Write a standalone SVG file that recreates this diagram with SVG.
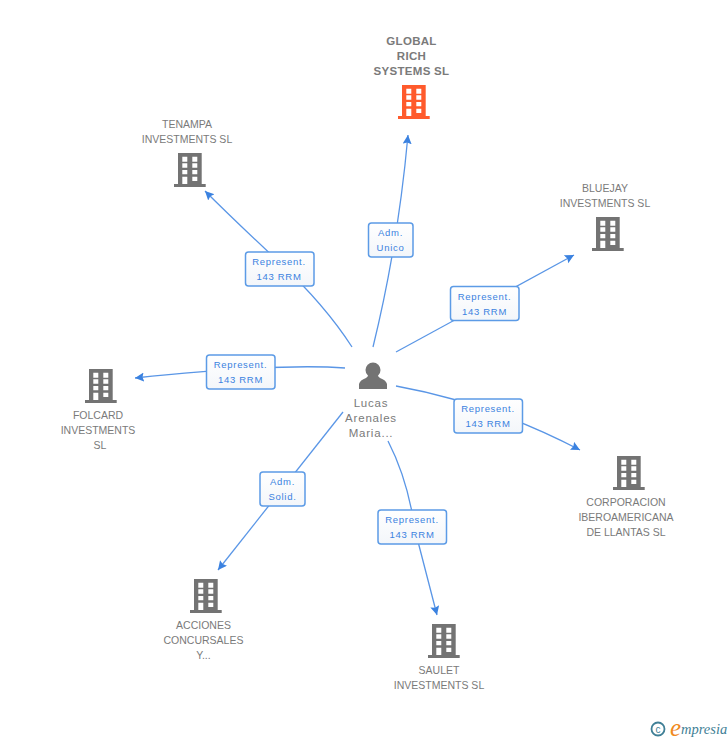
<svg xmlns="http://www.w3.org/2000/svg" width="728" height="740" viewBox="0 0 728 740">
<defs>
<linearGradient id="lg" x1="0" y1="0" x2="0" y2="1"><stop offset="0" stop-color="#ffffff"/><stop offset="1" stop-color="#f3f6fa"/></linearGradient>
<marker id="arr" markerUnits="userSpaceOnUse" markerWidth="12" markerHeight="10" refX="9" refY="4.500" orient="auto"><path d="M0 0L9 4.500L0 9L1.500 4.500Z" fill="#3b82e0"/></marker>
<g id="bld"><path fill-rule="evenodd" d="M-12 0H11.700V31H15.700V34H-16V31H-12ZM-7.700 3.700V8.700H-2.700V3.700ZM2.300 3.700V8.700H7.300V3.700ZM-7.700 10.300V14.800H-2.700V10.300ZM2.300 10.300V14.800H7.300V10.300ZM-7.700 17V21.300H-2.700V17ZM2.300 17V21.300H7.300V17ZM-7.700 23.700V31H-2.700V23.700ZM2.300 23.700V28H7.300V23.700Z"/></g>
</defs>
<style>
text{font-family:"Liberation Sans",Arial,sans-serif}
.n{font-size:10.500px;fill:#7a7a7a;text-anchor:middle;letter-spacing:0}
.t{font-size:11.500px;font-weight:bold;fill:#7a7a7a;text-anchor:middle;letter-spacing:.3px}
.p{font-size:11.500px;fill:#7a7a7a;text-anchor:middle;letter-spacing:.8px}
.l{font-size:9.500px;fill:#3b82e0;text-anchor:middle;letter-spacing:.7px}
.b{fill:url(#lg);stroke:#5c9be6;stroke-width:1.500}
.c{fill:none;stroke:#5a96e6;stroke-width:1.300;marker-end:url(#arr)}
.g{fill:#737373}
</style>
<rect width="728" height="740" fill="#fff"/>
<g id="connectors">
<path class="c" d="M373 347Q398 245 408 135"/>
<path class="c" d="M352 347Q325 305 279 262T205 191"/>
<path class="c" d="M396 352L574 255"/>
<path class="c" d="M345 368Q280 363 135 378"/>
<path class="c" d="M396 386Q490 403 580 450"/>
<path class="c" d="M343 412L218 570"/>
<path class="c" d="M388 441Q408 480 415 530L437 615"/>
</g>
<g id="edge-labels">
<g><rect class="b" x="368.500" y="223" width="44.500" height="34" rx="3"/><text class="l" x="390.500" y="236">Adm.</text><text class="l" x="390.500" y="251">Unico</text></g>
<g><rect class="b" x="245.500" y="252" width="68.500" height="34" rx="3"/><text class="l" x="279" y="265">Represent.</text><text class="l" x="279" y="280">143 RRM</text></g>
<g><rect class="b" x="450.500" y="286.500" width="68.500" height="34" rx="3"/><text class="l" x="484.500" y="300">Represent.</text><text class="l" x="484.500" y="315">143 RRM</text></g>
<g><rect class="b" x="206.500" y="355" width="68.500" height="34" rx="3"/><text class="l" x="240.500" y="368">Represent.</text><text class="l" x="240.500" y="383">143 RRM</text></g>
<g><rect class="b" x="454" y="399" width="68.500" height="34" rx="3"/><text class="l" x="488" y="412">Represent.</text><text class="l" x="488" y="427">143 RRM</text></g>
<g><rect class="b" x="260" y="472" width="45" height="34" rx="3"/><text class="l" x="282.500" y="485">Adm.</text><text class="l" x="282.500" y="500">Solid.</text></g>
<g><rect class="b" x="378" y="510" width="68.500" height="34" rx="3"/><text class="l" x="412" y="523">Represent.</text><text class="l" x="412" y="538">143 RRM</text></g>
</g>
<g id="person"><circle class="g" cx="373" cy="370" r="7.500"/><path class="g" d="M359 389V384Q360 380 366 378L369 375H377L380 378Q386 380 387 384V389Z"/><text class="p" x="371" y="407">Lucas</text><text class="p" x="371" y="422">Arenales</text><text class="p" x="371" y="437">Maria...</text></g>
<g id="global-rich"><text class="t" x="411.500" y="45">GLOBAL</text><text class="t" x="411.500" y="60">RICH</text><text class="t" x="411.500" y="75">SYSTEMS SL</text><use href="#bld" x="414" y="85" fill="#ff5a2c"/></g>
<g id="tenampa"><text class="n" x="187" y="128">TENAMPA</text><text class="n" x="187" y="143">INVESTMENTS SL</text><use href="#bld" x="190" y="153" fill="#737373"/></g>
<g id="bluejay"><text class="n" x="605" y="192">BLUEJAY</text><text class="n" x="605" y="207">INVESTMENTS SL</text><use href="#bld" x="608" y="217" fill="#737373"/></g>
<g id="folcard"><use href="#bld" x="101" y="369" fill="#737373"/><text class="n" x="98" y="419">FOLCARD</text><text class="n" x="98" y="434">INVESTMENTS</text><text class="n" x="100" y="449">SL</text></g>
<g id="corporacion"><use href="#bld" x="629" y="456" fill="#737373"/><text class="n" x="626" y="506">CORPORACION</text><text class="n" x="626" y="521">IBEROAMERICANA</text><text class="n" x="626" y="536">DE LLANTAS SL</text></g>
<g id="acciones"><use href="#bld" x="206" y="579" fill="#737373"/><text class="n" x="203.500" y="629">ACCIONES</text><text class="n" x="203.500" y="644">CONCURSALES</text><text class="n" x="203.500" y="659">Y...</text></g>
<g id="saulet"><use href="#bld" x="444" y="624" fill="#737373"/><text class="n" x="439" y="674">SAULET</text><text class="n" x="439" y="689">INVESTMENTS SL</text></g>
<g id="logo"><circle cx="658" cy="729" r="6.500" fill="none" stroke="#3f7f96" stroke-width="1.800"/><text x="658" y="732.500" font-size="10" fill="#3f7f96" text-anchor="middle">c</text><text x="670" y="736" font-size="25" font-style="italic" fill="#f08a1e" style="font-family:'Liberation Serif',serif">e</text><text x="681" y="734" font-size="14.500" font-style="italic" fill="#3f7f96" style="font-family:'Liberation Serif',serif">mpresia</text></g>
</svg>
